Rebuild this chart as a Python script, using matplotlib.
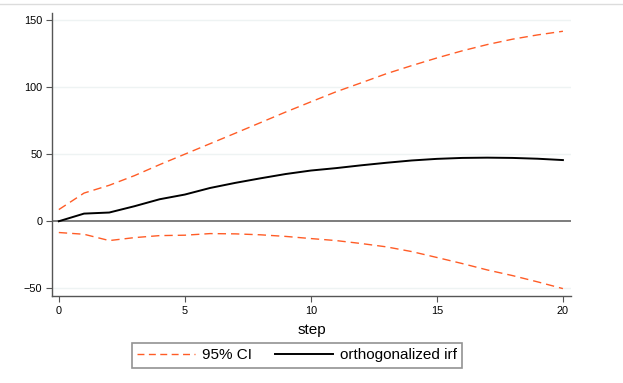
import matplotlib
matplotlib.use("Agg")
import matplotlib.pyplot as plt
from matplotlib.lines import Line2D

plt.rcParams["font.family"] = ["Liberation Sans", "DejaVu Sans"]

# impulse response by step
steps = list(range(21))
irf = [0.0, 5.7, 6.5, 11.2, 16.4, 19.9, 24.8, 28.6, 32.0, 35.2, 37.8,
       39.6, 41.7, 43.6, 45.3, 46.5, 47.2, 47.4, 47.2, 46.6, 45.6]
ci_upper = [8.7, 21.0, 26.8, 34.0, 42.2, 50.0, 57.8, 65.6, 73.5, 81.4, 89.0,
            96.5, 103.2, 110.0, 116.0, 121.7, 127.0, 131.7, 135.7, 138.9, 141.6]
ci_lower = [-8.4, -9.7, -14.4, -12.2, -10.7, -10.4, -9.2, -9.4, -10.1, -11.3, -12.9,
            -14.4, -16.6, -19.1, -22.6, -27.0, -31.5, -36.3, -40.5, -45.2, -50.2]
xticks = [0, 5, 10, 15, 20]
yticks = [-50, 0, 50, 100, 150]

ORANGE, SPINE = "#ff5c26", "#555555"

fig = plt.figure(figsize=(6.23, 3.83), dpi=100)
ax = fig.add_axes([0.0835, 0.2272, 0.833, 0.7381])

for y in yticks:
    if y != 0:
        ax.axhline(y, color="#eef3f3", lw=1.0, zorder=0)
ax.axhline(0, color="#666666", lw=1.2, zorder=1)

ax.plot(steps, ci_upper, color=ORANGE, lw=1.0, dashes=(6, 3.6), zorder=2)
ax.plot(steps, ci_lower, color=ORANGE, lw=1.0, dashes=(6, 3.6), zorder=2)
ax.plot(steps, irf, color="black", lw=1.4, zorder=3)

ax.set_xlim(-0.27, 20.32)
ax.set_ylim(-55.7, 155)
ax.set_xticks(xticks)
ax.set_yticks(yticks)
ax.tick_params(labelsize=7.8, length=4, width=0.8, color=SPINE, pad=3)
ax.set_xlabel("step", fontsize=11, labelpad=5)

for side in ("top", "right"):
    ax.spines[side].set_visible(False)
for side in ("left", "bottom"):
    ax.spines[side].set_color(SPINE)
    ax.spines[side].set_linewidth(1.0)

handles = [Line2D([], [], color=ORANGE, lw=1.0, dashes=(5, 3.2)),
           Line2D([], [], color="black", lw=1.4)]
leg = fig.legend(handles, ["95% CI", "orthogonalized irf"], loc="center",
                 bbox_to_anchor=(297 / 623, 1 - 355.3 / 383), ncol=2,
                 fontsize=11, frameon=True, fancybox=False, handlelength=3.8,
                 columnspacing=1.5, handletextpad=0.45, borderpad=0.35,
                 borderaxespad=0)
leg.get_frame().set_edgecolor("#777777")
leg.get_frame().set_linewidth(1.2)

fig.add_artist(Line2D([0, 1], [1 - 4 / 383] * 2, color="#dcdcdc", lw=1.0,
                      transform=fig.transFigure))

fig.savefig("out.png", dpi=100)
